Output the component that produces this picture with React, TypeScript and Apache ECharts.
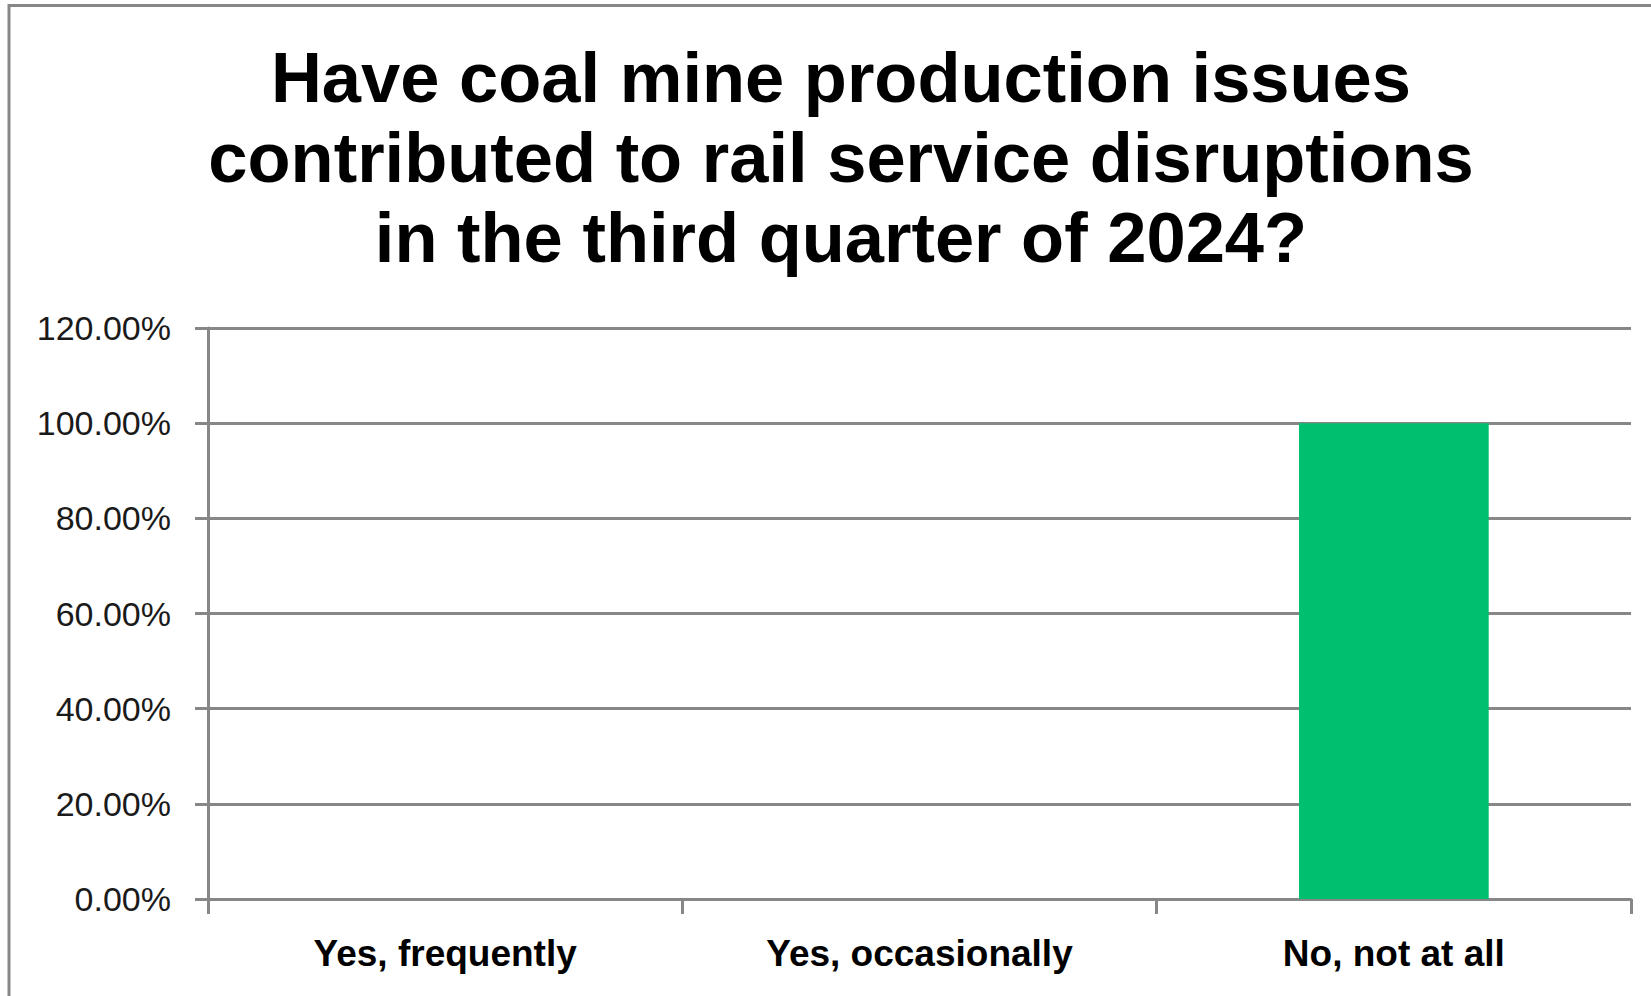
import React, { useEffect, useRef } from "react";
import * as echarts from "echarts";

const titleLines = [
  "Have coal mine production issues",
  "contributed to rail service disruptions",
  "in the third quarter of 2024?",
];
const categories = ["Yes, frequently", "Yes, occasionally", "No, not at all"];
const shares = [0, 0, 1.0];
const yMin = 0;
const yMax = 1.2;
const yStep = 0.2;

export default function App() {
  const ref = useRef<HTMLDivElement>(null);

  useEffect(() => {
    document.body.style.margin = "0";
    if (!ref.current) return;
    const chart = echarts.init(ref.current, undefined, { renderer: "svg" });
    const gray = "#878787";
    chart.setOption({
      animation: false,
      backgroundColor: "#ffffff",
      graphic: [
        {
          type: "rect",
          shape: { x: 9, y: 5.5, width: 1800, height: 1200 },
          style: { fill: "none", stroke: gray, lineWidth: 3 },
          silent: true,
        },
        {
          type: "text",
          x: 841,
          y: 37,
          style: {
            text: titleLines.join("\n"),
            fontFamily: "'Liberation Sans', Arial, sans-serif",
            fontWeight: "bold",
            fontSize: 70.5,
            lineHeight: 80,
            fill: "#000000",
            textAlign: "center",
            textVerticalAlign: "top",
          },
        },
      ],
      grid: { left: 208, right: 20, top: 328, bottom: 97, containLabel: false },
      xAxis: {
        type: "category",
        data: categories,
        boundaryGap: true,
        axisLine: { show: true, lineStyle: { color: gray, width: 3 } },
        axisTick: {
          show: true,
          inside: false,
          length: 15,
          alignWithLabel: false,
          interval: 0,
          lineStyle: { color: gray, width: 3 },
        },
        axisLabel: {
          interval: 0,
          margin: 36,
          color: "#000000",
          fontFamily: "'Liberation Sans', Arial, sans-serif",
          fontWeight: "bold",
          fontSize: 37,
        },
        splitLine: { show: false },
      },
      yAxis: {
        type: "value",
        min: yMin,
        max: yMax,
        interval: yStep,
        axisLine: { show: true, lineStyle: { color: gray, width: 3 } },
        axisTick: { show: true, inside: false, length: 13, lineStyle: { color: gray, width: 3 } },
        axisLabel: {
          margin: 37,
          color: "#1a1a1a",
          fontFamily: "'Liberation Sans', Arial, sans-serif",
          fontSize: 34,
          formatter: (v: number) => (v * 100).toFixed(2) + "%",
        },
        splitLine: { show: true, lineStyle: { color: gray, width: 3 } },
      },
      series: [
        {
          type: "bar",
          data: shares,
          barWidth: "40%",
          itemStyle: { color: "#00BF6F" },
        },
      ],
    });
    return () => chart.dispose();
  }, []);

  return <div ref={ref} style={{ width: 1651, height: 996 }} />;
}
